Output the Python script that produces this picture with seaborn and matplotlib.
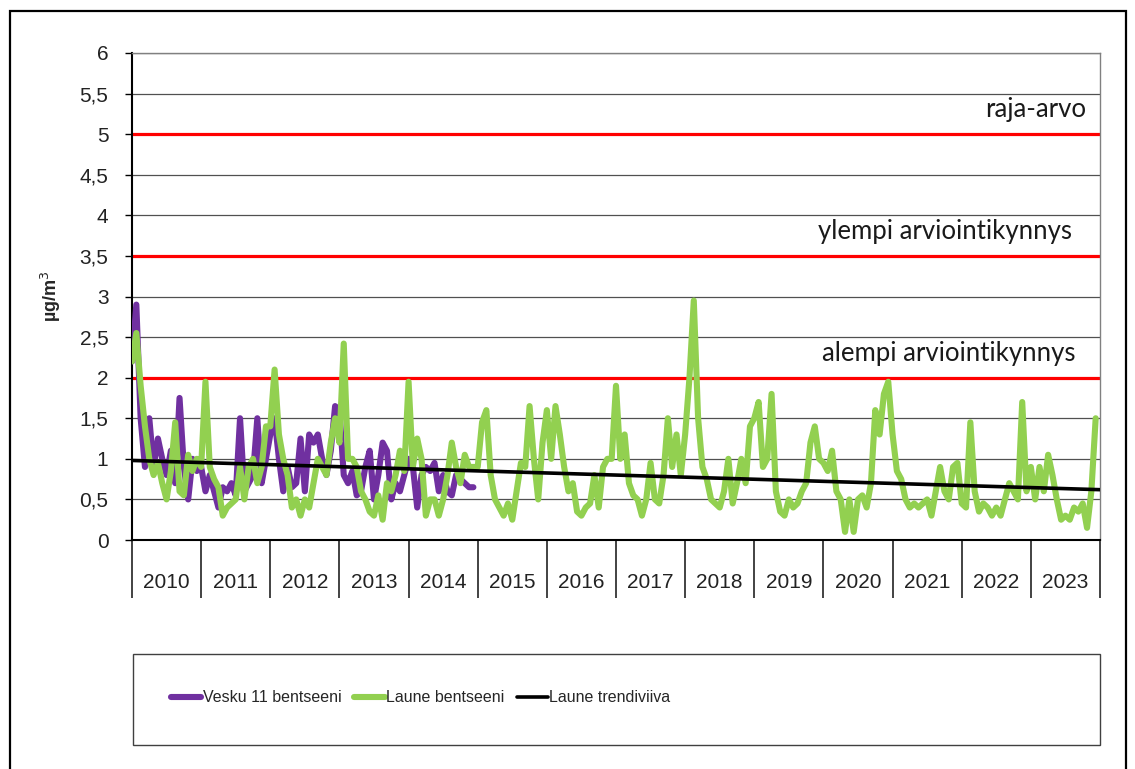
import numpy as np
import pandas as pd
import seaborn as sns
import matplotlib.pyplot as plt
from matplotlib.patches import Rectangle

# 16 samples per year
years = list(range(2010, 2024))
per_year = 16

laune = [
    2.2, 2.55, 1.9, 1.4, 1.0, 0.8, 0.95, 0.7, 0.5, 0.85, 1.45, 0.6, 0.55, 1.05, 0.85, 1.0,   # 2010
    0.9, 1.95, 0.9, 0.75, 0.65, 0.3, 0.4, 0.45, 0.5, 0.9, 0.5, 0.9, 1.0, 0.7, 0.9, 1.4,     # 2011
    1.4, 2.1, 1.3, 1.0, 0.8, 0.4, 0.5, 0.3, 0.5, 0.4, 0.7, 1.0, 0.9, 0.8, 1.2, 1.5,         # 2012
    1.2, 2.42, 1.0, 1.0, 0.9, 0.6, 0.5, 0.35, 0.3, 0.55, 0.25, 0.7, 0.6, 0.8, 1.1, 0.85,    # 2013
    1.95, 0.9, 1.25, 1.0, 0.3, 0.5, 0.5, 0.3, 0.5, 0.8, 1.2, 0.9, 0.7, 1.05, 0.9, 0.9,      # 2014
    0.9, 1.45, 1.6, 0.8, 0.5, 0.4, 0.3, 0.45, 0.25, 0.6, 0.95, 0.9, 1.65, 1.0, 0.5, 1.2,    # 2015
    1.6, 1.0, 1.65, 1.3, 0.9, 0.6, 0.7, 0.35, 0.3, 0.4, 0.45, 0.8, 0.4, 0.9, 1.0, 1.0,      # 2016
    1.9, 1.0, 1.3, 0.7, 0.55, 0.5, 0.3, 0.5, 0.95, 0.5, 0.45, 0.8, 1.5, 0.9, 1.3, 0.8,      # 2017
    1.3, 2.0, 2.95, 1.5, 0.9, 0.75, 0.5, 0.45, 0.4, 0.6, 1.0, 0.45, 0.7, 1.0, 0.7, 1.4,     # 2018
    1.5, 1.7, 0.9, 1.0, 1.8, 0.6, 0.35, 0.3, 0.5, 0.4, 0.45, 0.6, 0.7, 1.2, 1.4, 1.0,       # 2019
    0.95, 0.85, 1.1, 0.6, 0.5, 0.1, 0.5, 0.1, 0.5, 0.55, 0.4, 0.7, 1.6, 1.3, 1.8, 1.95,     # 2020
    1.3, 0.85, 0.75, 0.5, 0.4, 0.45, 0.4, 0.45, 0.5, 0.3, 0.6, 0.9, 0.6, 0.5, 0.9, 0.95,    # 2021
    0.45, 0.4, 1.45, 0.6, 0.35, 0.45, 0.4, 0.3, 0.4, 0.3, 0.5, 0.7, 0.6, 0.5, 1.7, 0.6,     # 2022
    0.9, 0.5, 0.9, 0.6, 1.05, 0.8, 0.5, 0.25, 0.3, 0.25, 0.4, 0.35, 0.45, 0.15, 0.6, 1.5,   # 2023
]

vesku = [
    2.2, 2.9, 1.5, 0.9, 1.5, 0.9, 1.25, 1.0, 0.8, 1.1, 0.7, 1.75, 0.9, 0.5, 1.0, 0.85,     # 2010
    0.9, 0.6, 0.8, 0.6, 0.4, 0.65, 0.6, 0.7, 0.55, 1.5, 0.6, 0.7, 0.8, 1.5, 0.7, 1.0,      # 2011
    1.3, 1.5, 1.0, 0.6, 0.9, 0.65, 0.7, 1.25, 0.6, 1.3, 1.2, 1.3, 1.0, 0.8, 1.1, 1.65,     # 2012
    1.6, 0.8, 0.7, 0.85, 0.55, 0.6, 0.9, 1.1, 0.5, 0.8, 1.2, 1.1, 0.5, 0.7, 0.6, 0.8,      # 2013
    1.0, 0.9, 0.4, 0.8, 0.9, 0.85, 0.95, 0.6, 0.8, 0.6, 0.55, 0.8, 0.75, 0.7, 0.65, 0.65,  # 2014
]

trend_x = [2010, 2024]
trend_y = [0.98, 0.62]

limits = [5, 3.5, 2]
limit_labels = ['raja-arvo', 'ylempi arviointikynnys', 'alempi arviointikynnys']

x_laune = [y + i / per_year for y in years for i in range(per_year)]
x_vesku = x_laune[:len(vesku)]
df_l = pd.DataFrame({'t': x_laune, 'v': laune})
df_v = pd.DataFrame({'t': x_vesku, 'v': vesku})

sns.set_style("white")
plt.rcParams['font.family'] = ['Liberation Sans', 'DejaVu Sans']

fig = plt.figure(figsize=(11.35, 7.69), dpi=100)
ax = fig.add_axes([132/1135, 1-540/769, 968/1135, 487/769])

for lim in limits:
    ax.axhline(lim, color='#FF0000', lw=2.3, zorder=2)

sns.lineplot(data=df_v, x='t', y='v', color='#7030A0', lw=4.4, label='Vesku 11 bentseeni', ax=ax, zorder=3)
sns.lineplot(data=df_l, x='t', y='v', color='#92D050', lw=4.4, label='Laune bentseeni', ax=ax, zorder=4)
sns.lineplot(x=trend_x, y=trend_y, color='black', lw=2.6, label='Laune trendiviiva', ax=ax, zorder=5)

for lim, lab, xr in zip(limits, limit_labels, [2023.8, 2023.6, 2023.65]):
    ax.text(xr, lim + 0.3, lab, ha='right', va='center', fontsize=18.5,
            family=['Lato', 'DejaVu Sans'], color='#1a1a1a')

ax.set_xlim(2010, 2024)
ax.set_ylim(0, 6)
yt = np.arange(0, 6.01, 0.5)
ax.set_yticks(yt)
ax.set_yticklabels([('%g' % v).replace('.', ',') for v in yt], fontsize=15, color='#222222')
ax.tick_params(axis='y', direction='out', length=5, width=1, color='black', pad=12, left=True)

ax.set_xticks(range(2010, 2025))
ax.set_xticklabels([])
ax.set_xticks([y + 0.5 for y in years], minor=True)
ax.set_xticklabels([str(y) for y in years], minor=True, fontsize=15, color='#222222')
ax.tick_params(axis='x', which='major', direction='out', length=42, width=1.2, color='#222222', bottom=True)
ax.tick_params(axis='x', which='minor', length=0, pad=24)

ax.yaxis.grid(True, color='#505050', lw=0.9)
ax.set_axisbelow(True)
for s in ['left', 'bottom']:
    ax.spines[s].set_color('black')
    ax.spines[s].set_linewidth(1.5)
for s in ['top', 'right']:
    ax.spines[s].set_color('#808080')
    ax.spines[s].set_linewidth(1)

ax.set_xlabel('')
ax.set_ylabel('µg/m$^3$', fontsize=13, fontweight='bold', labelpad=12)

handles, labels = ax.get_legend_handles_labels()
ax.get_legend().remove()
fig.legend(handles, labels, loc='center left', bbox_to_anchor=(163/1135, 1-698/769), ncol=3,
           frameon=False, handlelength=1.9, handletextpad=0.1, columnspacing=0.8,
           borderpad=0, prop={'family': ['Liberation Sans Narrow', 'Liberation Sans'], 'size': 11.5})

fig.add_artist(Rectangle((133/1135, 1-745/769), 967/1135, 91/769, transform=fig.transFigure,
                         fill=False, edgecolor='#404040', lw=1))
fig.add_artist(Rectangle((10/1135, -5/769), 1116/1135, 763/769, transform=fig.transFigure,
                         fill=False, edgecolor='black', lw=1.6))

fig.savefig('out.png', dpi=100)
